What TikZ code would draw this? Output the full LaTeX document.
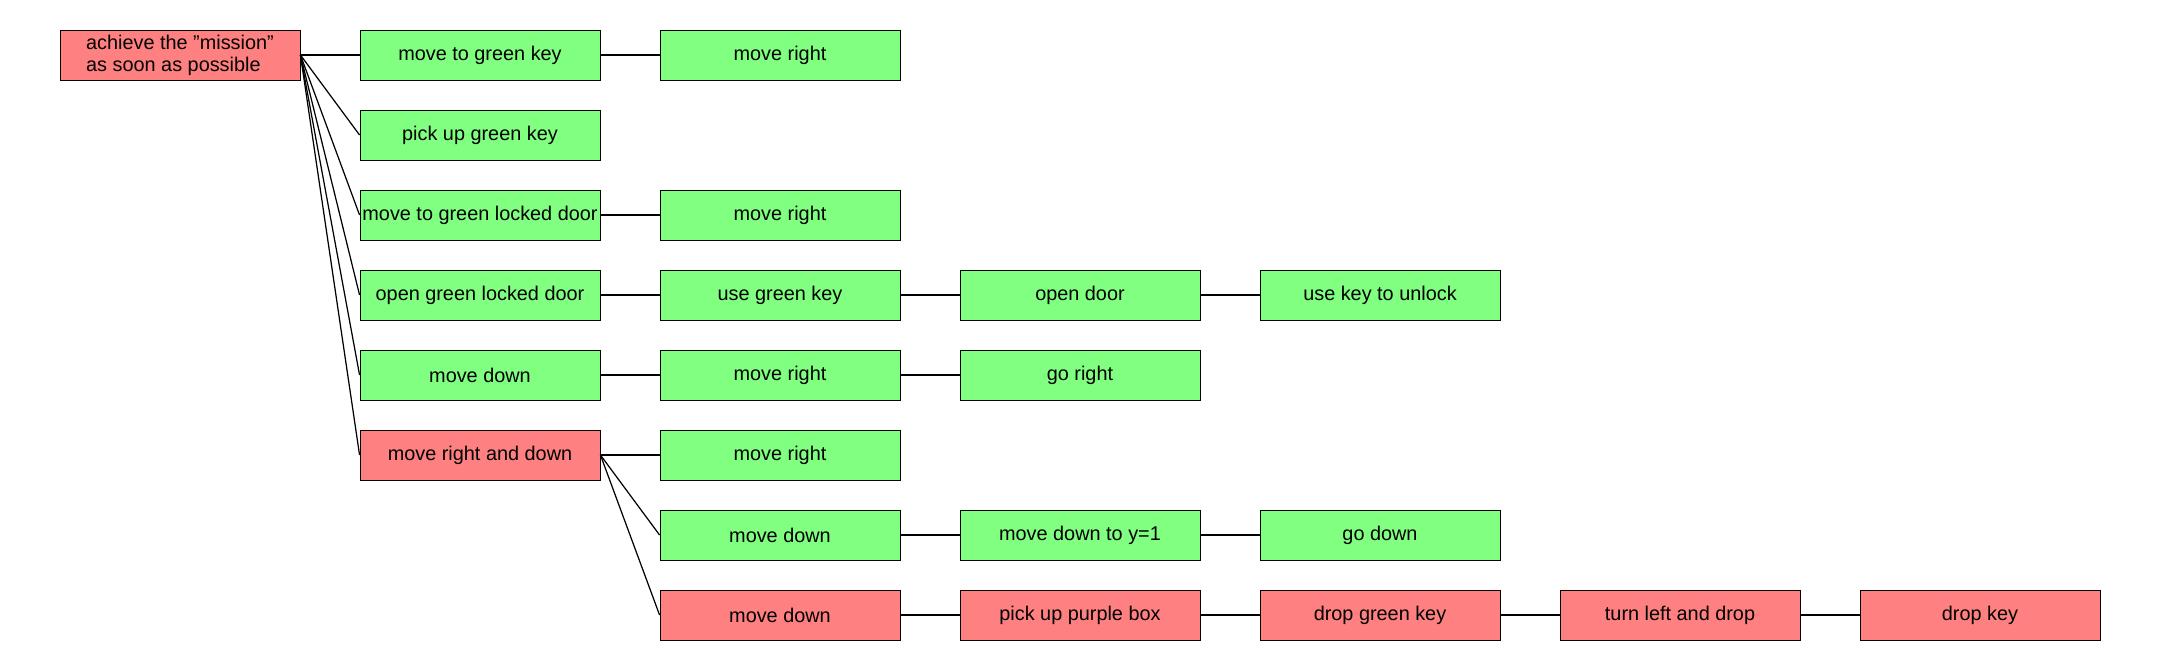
\documentclass[tikz,border=0pt]{standalone}
\usepackage{fontspec}
\setmainfont{Liberation Sans}
\definecolor{goalred}{HTML}{FF8080}
\definecolor{goalgreen}{HTML}{80FF80}
\tikzset{
    goal/.style={draw=black, line width=0.5pt, minimum width=4.8cm, minimum height=1cm,
        inner sep=0pt, font=\fontsize{11.3}{12.6}\selectfont},
    fail/.style={goal, fill=goalred},
    done/.style={goal, fill=goalgreen},
    link/.style={line width=0.7pt}
}
\begin{document}
\begin{tikzpicture}
    \useasboundingbox (0,0) rectangle (43.2,-13.4);
    % column 0
    \node[fail, align=left] (root) at (3.6,-1.1) {achieve the "mission"\\as soon as possible};
    % column 1
    \node[done] (mgk)  at (9.6,-1.1) {move to green key};
    \node[done] (pugk) at (9.6,-2.7) {pick up green key};
    \node[done] (mgld) at (9.6,-4.3) {move to green locked door};
    \node[done] (ogld) at (9.6,-5.9) {open green locked door};
    \node[done] (md)   at (9.6,-7.5) {move down};
    \node[fail] (mrd)  at (9.6,-9.1) {move right and down};
    % column 2
    \node[done] (mgkR)  at (15.6,-1.1) {move right};
    \node[done] (mgldR) at (15.6,-4.3) {move right};
    \node[done] (ugk)   at (15.6,-5.9) {use green key};
    \node[done] (mdR)   at (15.6,-7.5) {move right};
    \node[done] (mrdR)  at (15.6,-9.1) {move right};
    \node[done] (mrdD)  at (15.6,-10.7) {move down};
    \node[fail] (mrdDD) at (15.6,-12.3) {move down};
    % column 3
    \node[done] (od)   at (21.6,-5.9) {open door};
    \node[done] (gr)   at (21.6,-7.5) {go right};
    \node[done] (mdy)  at (21.6,-10.7) {move down to y=1};
    \node[fail] (pupb) at (21.6,-12.3) {pick up purple box};
    % column 4
    \node[done] (uktu) at (27.6,-5.9) {use key to unlock};
    \node[done] (gd)   at (27.6,-10.7) {go down};
    \node[fail] (dgk)  at (27.6,-12.3) {drop green key};
    % column 5 and 6
    \node[fail] (tlad) at (33.6,-12.3) {turn left and drop};
    \node[fail] (dk)   at (39.6,-12.3) {drop key};
    % links
    \draw[link] (root.east) -- (mgk.west);
    \draw[link] (root.east) -- (pugk.west);
    \draw[link] (root.east) -- (mgld.west);
    \draw[link] (root.east) -- (ogld.west);
    \draw[link] (root.east) -- (md.west);
    \draw[link] (root.east) -- (mrd.west);
    \draw[link] (mgk) -- (mgkR);
    \draw[link] (mgld) -- (mgldR);
    \draw[link] (ogld) -- (ugk) -- (od) -- (uktu);
    \draw[link] (md) -- (mdR) -- (gr);
    \draw[link] (mrd.east) -- (mrdR.west);
    \draw[link] (mrd.east) -- (mrdD.west);
    \draw[link] (mrd.east) -- (mrdDD.west);
    \draw[link] (mrdD) -- (mdy) -- (gd);
    \draw[link] (mrdDD) -- (pupb) -- (dgk) -- (tlad) -- (dk);
\end{tikzpicture}
\end{document}
